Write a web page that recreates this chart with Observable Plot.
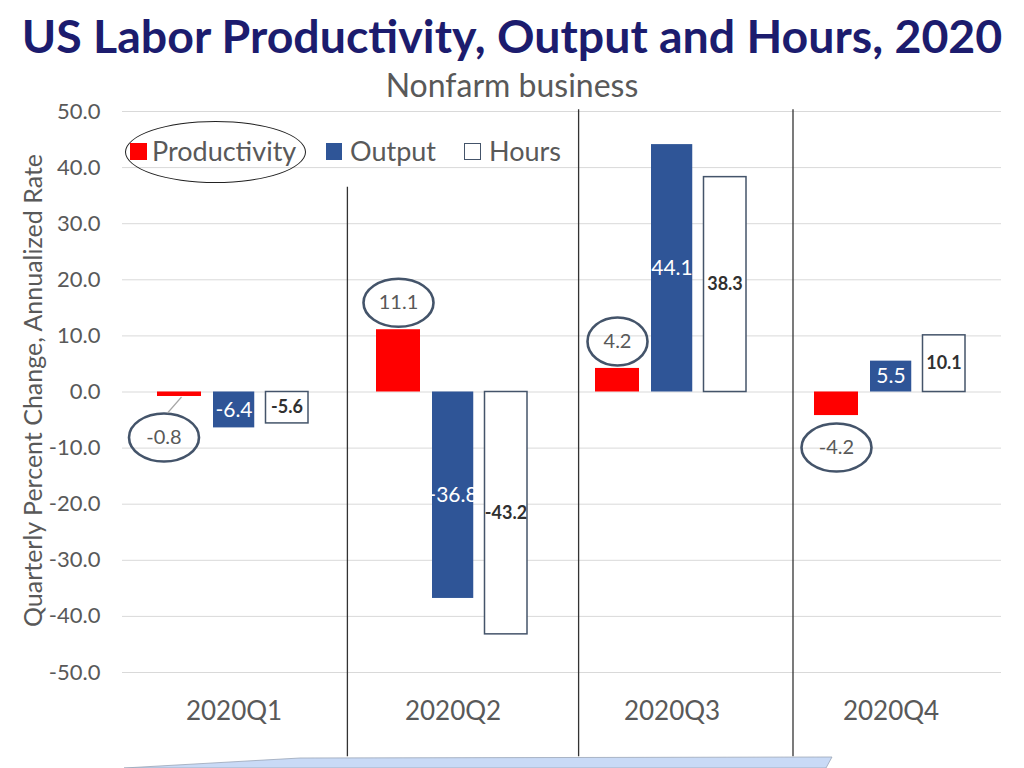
<!DOCTYPE html>
<html>
<head>
<meta charset="utf-8">
<script src="https://cdn.jsdelivr.net/npm/d3@7"></script>
<script src="https://cdn.jsdelivr.net/npm/@observablehq/plot@0.6"></script>
<style>
  body { margin: 0; background: #fff; font-family: Lato, "Open Sans", sans-serif; }
  #wrap { position: relative; width: 1024px; height: 768px; overflow: hidden; background: #fff; }
  #title { position: absolute; left: 0; top: 7px; width: 1024px; text-align: center; font-weight: bold;
           font-size: 46.5px; line-height: 56px; color: #1C1C6E; white-space: nowrap; }
  #subtitle { position: absolute; left: 0; top: 66px; width: 1024px; text-align: center; font-size: 32px;
              line-height: 38px; color: #595959; }
  #chart { position: absolute; left: 0; top: 100px; }
  .sw { position: absolute; width: 17px; height: 17px; box-sizing: border-box; }
  .lt { position: absolute; top: 136px; font-size: 27px; line-height: 30px; color: #595959; white-space: nowrap; }
  #legEll { position: absolute; left: 125px; top: 121px; width: 181px; height: 62px; box-sizing: border-box;
            border: 1.4px solid #222; border-radius: 50%; }
  #band { position: absolute; left: 0; top: 0; width: 1024px; height: 768px; pointer-events: none; }
</style>
</head>
<body>
<div id="wrap">
  <div id="title">US Labor Productivity, Output and Hours, 2020</div>
  <div id="subtitle">Nonfarm business</div>
  <div id="chart"></div>
  <div id="legEll"></div>
  <span class="sw" style="left:130px;top:143px;background:#FF0000"></span>
  <span class="lt" style="left:152px">Productivity</span>
  <span class="sw" style="left:326px;top:143px;width:16px;background:#2F5597"></span>
  <span class="lt" style="left:350px">Output</span>
  <span class="sw" style="left:464px;top:143px;background:#fff;border:1.5px solid #44546A"></span>
  <span class="lt" style="left:489px">Hours</span>
  <svg id="band" width="1024" height="768">
    <polygon points="124,768 300,758 832,757 826,768" fill="#C9DAF6" stroke="#9AA6B8" stroke-width="0.8"></polygon>
  </svg>
</div>
<script>
const quarters = ["2020Q1", "2020Q2", "2020Q3", "2020Q4"];
const productivity = [-0.8, 11.1, 4.2, -4.2];
const output = [-6.4, -36.8, 44.1, 5.5];
const hours = [-5.6, -43.2, 38.3, 10.1];
const yTicks = [50, 40, 30, 20, 10, 0, -10, -20, -30, -40, -50];

const rows = arr => quarters.map((q, i) => ({ q, v: arr[i], label: arr[i].toFixed(1) }));
const prodRows = rows(productivity);
const outRows = rows(output);
const hourRows = rows(hours);

const prodUp = prodRows.filter(d => d.v >= 1);
const prodDown = prodRows.filter(d => d.v <= -1);
const prodSmall = prodRows.filter(d => Math.abs(d.v) < 1);

// ellipse symbol (rx from size, fixed ry)
const ellipse = {
  draw(ctx, size) {
    const rx = Math.sqrt(size / Math.PI), ry = 24;
    const kx = rx * 0.5523, ky = ry * 0.5523;
    ctx.moveTo(rx, 0);
    ctx.bezierCurveTo(rx, ky, kx, ry, 0, ry);
    ctx.bezierCurveTo(-kx, ry, -rx, ky, -rx, 0);
    ctx.bezierCurveTo(-rx, -ky, -kx, -ry, 0, -ry);
    ctx.bezierCurveTo(kx, -ry, rx, -ky, rx, 0);
    ctx.closePath();
  }
};
const ellR = d => (d.label.length > 3 ? 35 : 30);
const ellStyle = { symbol: ellipse, r: ellR, fill: "none", stroke: "#44546A", strokeWidth: 2.6 };
const prodText = { text: "label", fill: "#595959", fontSize: 20 };

const chart = Plot.plot({
  width: 1024,
  height: 668,
  marginTop: 11,
  marginBottom: 96,
  marginLeft: 122,
  marginRight: 23,
  style: { fontFamily: "Lato, 'Open Sans', sans-serif", color: "#595959", background: "transparent", overflow: "visible" },
  x: { domain: quarters, padding: 0, label: null },
  y: { domain: [-50, 50], label: null },
  r: { type: "identity" },
  marks: [
    Plot.gridY(yTicks, { stroke: "#D9D9D9", strokeOpacity: 1, strokeWidth: 1 }),
    Plot.axisY(yTicks, { tickSize: 0, tickPadding: 22, fontSize: 22, tickFormat: d => d.toFixed(1), label: null }),
    Plot.axisX({ tickSize: 0, tickPadding: 29, fontSize: 26, label: null }),
    // separators
    Plot.ruleX(["2020Q2"], { x: d => d, y1: -65, y2: 36.5, dx: -105.6, stroke: "#333", strokeWidth: 1.3 }),
    Plot.ruleX(["2020Q3"], { x: d => d, y1: -65, y2: 50.3, dx: -93.4, stroke: "#333", strokeWidth: 1.3 }),
    Plot.ruleX(["2020Q4"], { x: d => d, y1: -65, y2: 50.3, dx: -98, stroke: "#333", strokeWidth: 1.3 }),
    // bars
    Plot.barY(prodRows, { x: "q", y: "v", fill: "#FF0000", insetLeft: 33, insetRight: 142 }),
    Plot.barY(outRows, { x: "q", y: "v", fill: "#2F5597", insetLeft: 89, insetRight: 88.75 }),
    Plot.barY(hourRows, { x: "q", y: "v", fill: "white", stroke: "#44546A", strokeWidth: 1.5, insetLeft: 141.5, insetRight: 35 }),
    // value labels
    Plot.text(outRows, { x: "q", y: d => d.v / 2, text: "label", fill: "white", fontSize: 21 }),
    Plot.text(hourRows, { x: "q", y: d => d.v / 2, dx: 53, text: "label", fill: "#303030", fontSize: 18, fontWeight: "bold" }),
    Plot.dot(prodUp, { x: "q", y: "v", dx: -54.5, dy: -27, ...ellStyle }),
    Plot.text(prodUp, { x: "q", y: "v", dx: -54.5, dy: -27, ...prodText }),
    Plot.dot(prodDown, { x: "q", y: "v", dx: -54.5, dy: 32, ...ellStyle }),
    Plot.text(prodDown, { x: "q", y: "v", dx: -54.5, dy: 32, ...prodText }),
    Plot.dot(prodSmall, { x: "q", y: "v", dx: -70, dy: 41, ...ellStyle }),
    Plot.text(prodSmall, { x: "q", y: "v", dx: -70, dy: 41, ...prodText })
  ]
});
document.getElementById("chart").appendChild(chart);

// y-axis title and leader line for the small productivity label
const svg = d3.select(chart);
const ys = chart.scale("y"), xs = chart.scale("x");
svg.append("text")
  .attr("transform", `translate(32,${ys.apply(0) - 1}) rotate(-90)`)
  .attr("text-anchor", "middle")
  .attr("dominant-baseline", "central")
  .attr("font-size", 25)
  .attr("fill", "#595959")
  .text("Quarterly Percent Change, Annualized Rate");
prodSmall.forEach(d => {
  const cx = xs.apply(d.q) + xs.bandwidth / 2;
  const cy = ys.apply(d.v);
  svg.append("line")
    .attr("x1", cx - 52).attr("y1", cy + 1)
    .attr("x2", cx - 66).attr("y2", cy + 17)
    .attr("stroke", "#A6A6A6").attr("stroke-width", 1.2);
});
</script>
</body>
</html>
